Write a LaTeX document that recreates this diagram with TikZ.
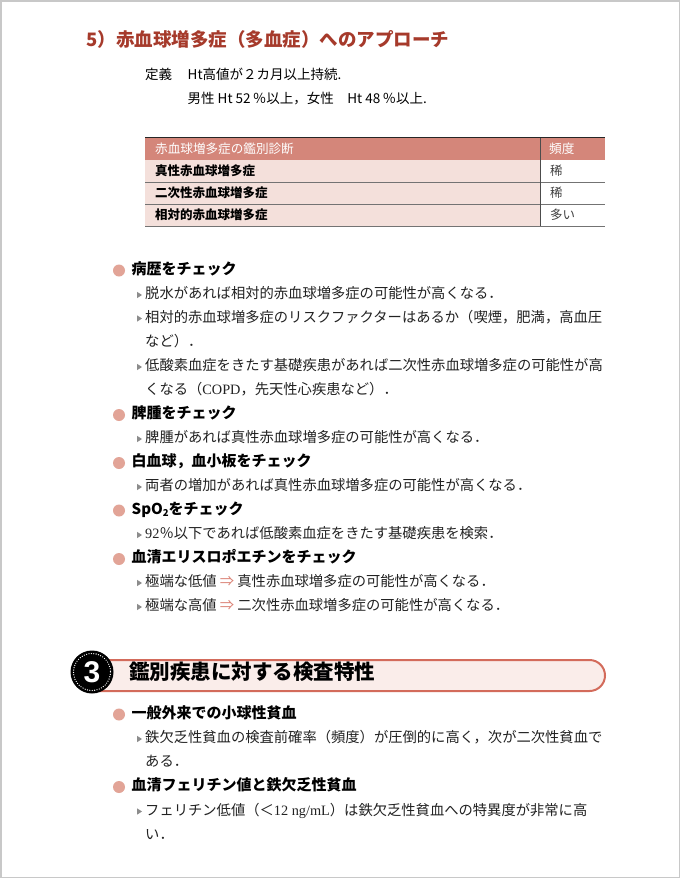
\documentclass[tikz,border=0pt]{standalone}
\usepackage{fontspec}
\setmainfont{Noto Sans CJK JP}
\newfontfamily\lser{Liberation Serif}
\newfontfamily\lsans{Liberation Sans}
\definecolor{titlered}{HTML}{A63A2B}
\definecolor{hdrfill}{HTML}{D4867A}
\definecolor{rowfill}{HTML}{F4E0DB}
\definecolor{bulletc}{HTML}{E2A497}
\definecolor{barline}{HTML}{D36B5B}
\definecolor{barfill}{HTML}{FAEDEA}
\definecolor{arrowc}{HTML}{DB8376}
\definecolor{framec}{HTML}{C8C8C8}
\definecolor{tric}{HTML}{8C8C8C}
\definecolor{bodyc}{HTML}{222222}
\tikzset{
  txt/.style={anchor=west, inner sep=0pt, text height=0.88em, text depth=0.12em},
  headtxt/.style={txt, font=\bfseries\fontsize{15}{15}\selectfont, text=black},
  subtxt/.style={txt, font=\fontsize{14.3}{14.3}\selectfont, text=bodyc},
  deftxt/.style={txt, font=\fontsize{13.5}{13.5}\selectfont, text=black},
  rowtxt/.style={txt, font=\bfseries\fontsize{12.5}{12.5}\selectfont, text=black},
  freqtxt/.style={txt, font=\fontsize{12.5}{12.5}\selectfont, text=black!75},
  hdrtxt/.style={txt, font=\fontsize{12.6}{12.6}\selectfont, text=white},
}
\newcommand{\HeadItem}[3]{%
  \fill[bulletc] (119,#2) circle (6);
  \node[headtxt] (#1) at (131.5,#2) {#3};}
\newcommand{\SubItem}[3]{%
  \fill[tric] (137,#2) ++(0,-3.2) -- ++(5,3.2) -- ++(-5,3.2) -- cycle;
  \node[subtxt] (#1) at (145,#2) {#3};}
\newcommand{\ContLine}[3]{%
  \node[subtxt] (#1) at (145,#2) {#3};}
\begin{document}
\begin{tikzpicture}[x=1pt,y=-1pt]
\useasboundingbox (0,0) rectangle (680,878);
\fill[white] (0,0) rectangle (680,878);
\draw[framec, line width=1.5pt] (0.75,0.75) rectangle (679.25,877.25);

% title
\node[txt, font=\bfseries\fontsize{18.5}{18.5}\selectfont, text=titlered] (title) at (86.5,43)
  {5）赤血球増多症（多血症）へのアプローチ};
\node[deftxt] (defl) at (145,76) {定義};
\node[deftxt] (def1) at (187.5,76) {Ht高値が２カ月以上持続.};
\node[deftxt] (def2) at (187.5,100) {男性 Ht 52\,％以上，女性\quad Ht 48\,％以上.};

% table
\fill[hdrfill] (145,138) rectangle (605,160);
\fill[rowfill] (145,160) rectangle (540,226);
\draw[black!55, line width=0.8pt] (145,182) -- (605,182);
\draw[black!55, line width=0.8pt] (145,204) -- (605,204);
\draw[black!55, line width=0.8pt] (145,226) -- (605,226);
\draw[black!70, line width=0.8pt] (540,138) -- (540,226);
\draw[black!85, line width=1.8pt] (145,137.5) -- (605,137.5);
\node[hdrtxt] (h1) at (155,149.5) {赤血球増多症の鑑別診断};
\node[hdrtxt] (h2) at (549,149.5) {頻度};
\node[rowtxt] (r1) at (155,171.5) {真性赤血球増多症};
\node[rowtxt] (r2) at (155,193.5) {二次性赤血球増多症};
\node[rowtxt] (r3) at (155,215.5) {相対的赤血球増多症};
\node[freqtxt] (f1) at (550,171.5) {稀};
\node[freqtxt] (f2) at (550,193.5) {稀};
\node[freqtxt] (f3) at (550,215.5) {多い};

% items
\HeadItem{hA}{270.5}{病歴をチェック}
\SubItem{sA1}{295}{脱水があれば相対的赤血球増多症の可能性が高くなる．}
\SubItem{sA2}{318.5}{相対的赤血球増多症のリスクファクターはあるか（喫煙，肥満，高血圧}
\ContLine{sA2b}{342.5}{など）．}
\SubItem{sA3}{367}{低酸素血症をきたす基礎疾患があれば二次性赤血球増多症の可能性が高}
\ContLine{sA3b}{391}{くなる（{\lser COPD}，先天性心疾患など）．}
\HeadItem{hB}{415}{脾腫をチェック}
\SubItem{sB1}{439}{脾腫があれば真性赤血球増多症の可能性が高くなる．}
\HeadItem{hC}{463}{白血球，血小板をチェック}
\SubItem{sC1}{487}{両者の増加があれば真性赤血球増多症の可能性が高くなる．}
\HeadItem{hD}{510.5}{SpO\raisebox{-0.3ex}{\fontsize{9.5}{9.5}\selectfont 2}をチェック}
\SubItem{sD1}{535}{{\lser 92}％以下であれば低酸素血症をきたす基礎疾患を検索．}
\HeadItem{hE}{559}{血清エリスロポエチンをチェック}
\SubItem{sE1}{583}{極端な低値 {\color{arrowc}⇒} 真性赤血球増多症の可能性が高くなる．}
\SubItem{sE2}{607}{極端な高値 {\color{arrowc}⇒} 二次性赤血球増多症の可能性が高くなる．}

% section 3 header
\draw[barline, fill=barfill, line width=2pt] (100,660) -- (589.5,660)
  arc[start angle=-90, end angle=90, radius=15.5] -- (100,691) -- cycle;
\fill[black] (92,672) circle (21.5);
\draw[white, line width=1.3pt, dash pattern=on 0pt off 2.4pt, line cap=round] (92,672) circle (18.5);
\node[inner sep=0pt, font=\lsans\bfseries\fontsize{30}{30}\selectfont, text=white, anchor=center] (num) at (92,672.5) {3};
\node[txt, font=\bfseries\fontsize{20.5}{20.5}\selectfont, text=black] (sec) at (129,675.5) {鑑別疾患に対する検査特性};

\HeadItem{hF}{714.5}{一般外来での小球性貧血}
\SubItem{sF1}{739}{鉄欠乏性貧血の検査前確率（頻度）が圧倒的に高く，次が二次性貧血で}
\ContLine{sF1b}{763}{ある．}
\HeadItem{hG}{787}{血清フェリチン値と鉄欠乏性貧血}
\SubItem{sG1}{811.5}{フェリチン低値（＜{\lser 12 ng/mL}）は鉄欠乏性貧血への特異度が非常に高}
\ContLine{sG1b}{835.5}{い．}
\end{tikzpicture}
\end{document}
